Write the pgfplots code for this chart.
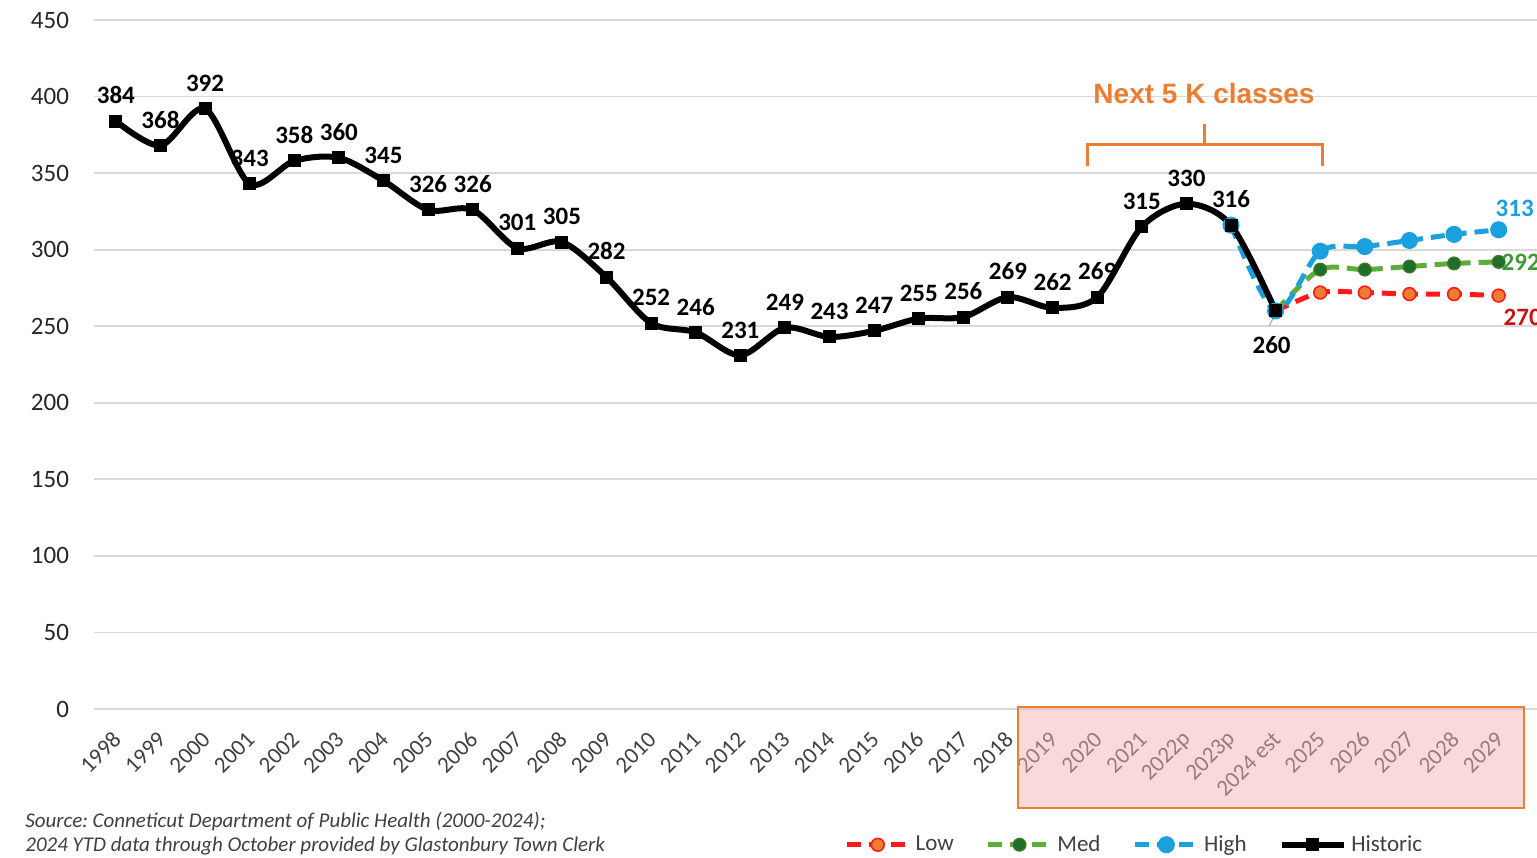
\documentclass[border=0pt]{standalone}
\usepackage{pgfplots}
\pgfplotsset{compat=1.18}
\usepackage{pgfplotstable}
\usepackage{fontspec}
\setmainfont{Carlito}
\newfontfamily\arialfont{Liberation Sans}
\definecolor{gridgray}{HTML}{D9D9D9}
\definecolor{korange}{HTML}{ED7D31}
\definecolor{lowred}{HTML}{FF1A1A}
\definecolor{lowlab}{HTML}{C81414}
\definecolor{medline}{HTML}{5CAD3A}
\definecolor{medmark}{HTML}{1F6E2A}
\definecolor{medlab}{HTML}{3D9A35}
\definecolor{hiblue}{HTML}{1AA0DC}
\definecolor{ticktext}{HTML}{404040}
\definecolor{boxpink}{HTML}{F4B4B4}

\pgfplotstableread{
x y
0 384
1 368
2 392
3 343
4 358
5 360
6 345
7 326
8 326
9 301
10 305
11 282
12 252
13 246
14 231
15 249
16 243
17 247
18 255
19 256
20 269
21 262
22 269
23 315
24 330
25 316
26 260
}\historic

\pgfplotstableread{
x y
26 260
27 272
28 272
29 271
30 271
31 270
}\low

\pgfplotstableread{
x y
26 260
27 287
28 287
29 289
30 291
31 292
}\med

\pgfplotstableread{
x y
25 316
26 260
27 299
28 302
29 306
30 310
31 313
}\high

\begin{document}
\begin{tikzpicture}
\begin{axis}[
  at={(47pt,74pt)}, anchor=south west,
  scale only axis,
  width=721.5pt, height=344.5pt,
  xmin=-0.49, xmax=31.86,
  ymin=0, ymax=450,
  ytick={0,50,...,450},
  xtick={0,...,31},
  xticklabels={1998,1999,2000,2001,2002,2003,2004,2005,2006,2007,2008,2009,2010,2011,2012,2013,2014,2015,2016,2017,2018,2019,2020,2021,2022p,2023p,2024 est,2025,2026,2027,2028,2029},
  axis line style={draw=none},
  major tick length=0pt,
  ymajorgrids,
  grid style={gridgray, line width=0.9pt},
  clip=false,
  /pgf/number format/assume math mode=true,
  yticklabel style={font=\fontsize{12.5}{14}\selectfont, text=black!85, xshift=-9pt},
  xticklabel style={font=\fontsize{11.5}{13}\selectfont, text=ticktext, xshift=3pt, yshift=-11pt, rotate=45, anchor=east},
  legend columns=4,
  legend style={draw=none, fill=none, at={(0.7215,-0.197)}, anchor=center,
    font=\fontsize{11.5}{13}\selectfont, text=ticktext,
    /tikz/every even column/.append style={column sep=14pt}},
  legend cell align=left,
  legend image code/.code={\draw[mark repeat=2,mark phase=2] plot coordinates {(0cm,0cm)(0.55cm,0cm)(1.1cm,0cm)};},
]
\addplot[lowred, line width=2.5pt, dash pattern=on 7pt off 4pt, smooth,
  mark=*, mark size=3.2pt, mark options={solid, fill=korange, draw=lowred, line width=0.8pt}]
  table[x=x,y=y] {\low};
\addlegendentry{Low}
\addplot[medline, line width=2.5pt, dash pattern=on 7pt off 4pt, smooth,
  mark=*, mark size=3.2pt, mark options={solid, fill=medmark, draw=medline!70!black, line width=0.6pt}]
  table[x=x,y=y] {\med};
\addlegendentry{Med}
\addplot[hiblue, line width=2.5pt, dash pattern=on 7pt off 4pt, smooth,
  mark=*, mark size=3pt, mark options={solid, fill=hiblue, draw=hiblue}]
  table[x=x,y=y] {\high};
\addlegendentry{High}
\addplot[black, line width=3pt, smooth, tension=0.5,
  mark=square*, mark size=3pt, mark options={solid, line width=0.5pt}]
  table[x=x,y=y] {\historic};
\addlegendentry{Historic}

% data labels
\addplot[draw=none, forget plot, nodes near coords,
  every node near coord/.append style={font=\bfseries\fontsize{12.5}{14}\selectfont, text=black, yshift=5pt}]
  table[x=x,y=y, restrict x to domain=0:25] {\historic};
\addplot[draw=none, forget plot, nodes near coords,
  every node near coord/.append style={font=\bfseries\fontsize{12.5}{14}\selectfont, text=black, anchor=north, yshift=-9pt, xshift=-2pt}]
  coordinates {(26,260)};
\draw[gray!70, line width=0.5pt] (axis cs:26,258) -- (axis cs:25.85,250);
\addplot[draw=none, forget plot, nodes near coords,
  every node near coord/.append style={font=\bfseries\fontsize{12.5}{14}\selectfont, text=hiblue, anchor=south west, xshift=-5pt, yshift=3pt}]
  coordinates {(31,313)};
\addplot[draw=none, forget plot, nodes near coords,
  every node near coord/.append style={font=\bfseries\fontsize{12.5}{14}\selectfont, text=medlab, anchor=west, xshift=-2pt, yshift=0pt}]
  coordinates {(31,292)};
\addplot[draw=none, forget plot, nodes near coords,
  every node near coord/.append style={font=\bfseries\fontsize{12.5}{14}\selectfont, text=lowlab, anchor=north west, xshift=-1pt, yshift=-3pt}]
  coordinates {(31,270)};
\end{axis}

% highlight box over projected years
\fill[boxpink, fill opacity=0.5] (509pt,24.5pt) rectangle (762pt,75pt);
\draw[korange, line width=1.1pt] (509pt,24.5pt) rectangle (762pt,75pt);

% bracket
\draw[korange, line width=1.5pt] (543.5pt,345.5pt) -- (543.5pt,356pt) -- (661pt,356pt) -- (661pt,345.5pt);
\draw[korange, line width=1.5pt] (602pt,356pt) -- (602pt,366.5pt);
\node[font=\arialfont\bfseries\fontsize{14}{16}\selectfont, text=korange] at (602pt,382pt) {Next 5 K classes};

% source
\node[anchor=base west, font=\itshape\fontsize{10.5}{12}\selectfont, text=ticktext, inner sep=0pt] at (12.5pt,15pt) {Source:\ Conneticut Department of Public Health (2000-2024);};
\node[anchor=base west, font=\itshape\fontsize{10.5}{12}\selectfont, text=ticktext, inner sep=0pt] at (12.5pt,2.5pt) {2024 YTD data through October provided by Glastonbury Town Clerk};

\pgfresetboundingbox
\path[use as bounding box] (0pt,0pt) rectangle (768.5pt,428.5pt);
\end{tikzpicture}
\end{document}
